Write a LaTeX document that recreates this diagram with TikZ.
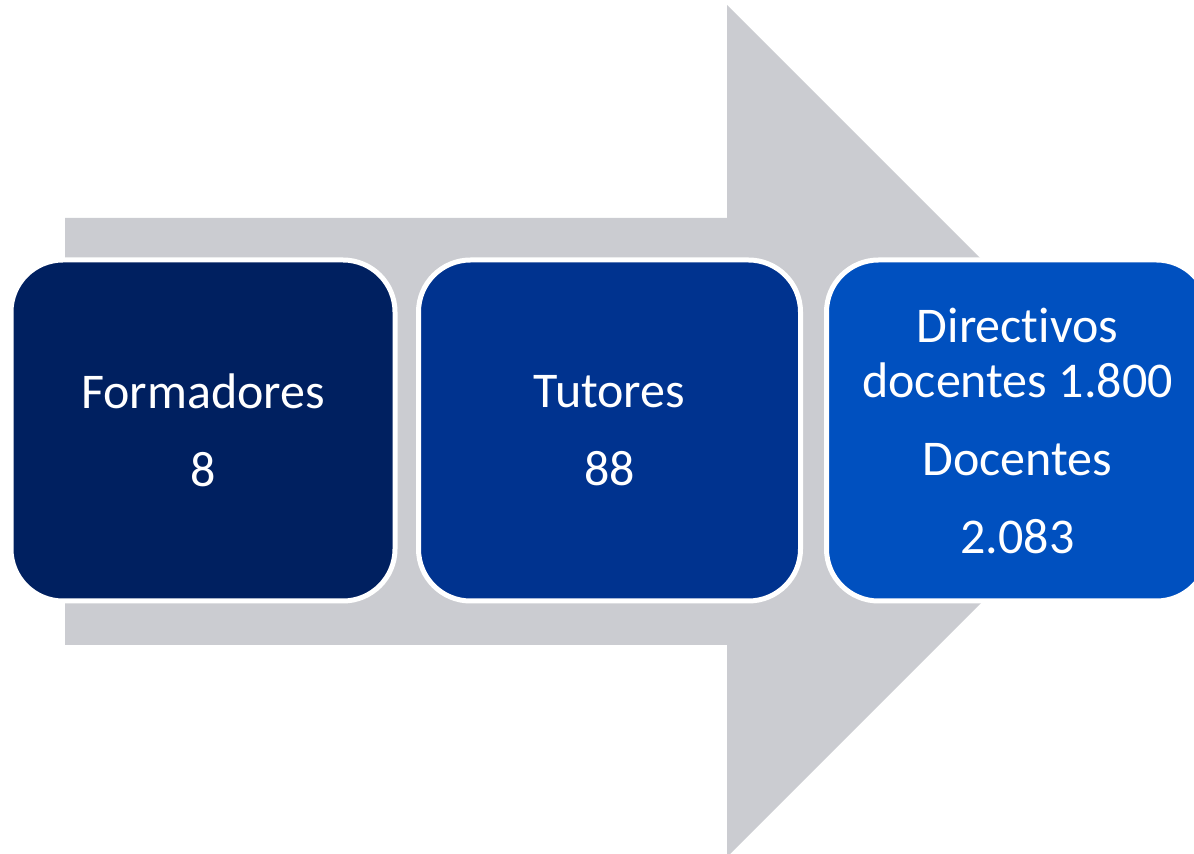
\documentclass[tikz,border=0pt]{standalone}
\usepackage{fontspec}
\setmainfont[Ligatures=NoCommon]{Carlito}
\definecolor{arrowgray}{HTML}{CBCCD1}
\definecolor{navyA}{HTML}{002060}
\definecolor{navyB}{HTML}{00338F}
\definecolor{navyC}{HTML}{0050BF}
\begin{document}
\begin{tikzpicture}[x=0.5pt,y=-0.5pt,
        stage/.style={rectangle, rounded corners=26pt, draw=white, line width=2.5pt,
            minimum width=191pt, minimum height=170.5pt, align=center, text=white,
            font=\fontsize{25}{27.5}\selectfont, inner sep=0pt}]
        \useasboundingbox (0,0) rectangle (1194,854);
        \clip (0,0) rectangle (1194,854);
        % big gray arrow behind
        \fill [arrowgray] (65,218) -- (727,218) -- (727,5) -- (1153,431) -- (727,857) -- (727,645) -- (65,645) -- cycle;
        % stages
        \node [stage, fill=navyA, minimum width=192pt] (formadores) at (203,430.5) {Formadores\\[11.5pt]8};
        \node [stage, fill=navyB] (tutores) at (609.5,430.5) {Tutores\\[11.5pt]88};
        \node [stage, fill=navyC] (docentes) at (1017.5,430.5) {Directivos\\docentes 1.800\\[11.5pt]Docentes\\[11.5pt]2.083};
    \end{tikzpicture}
\end{document}
